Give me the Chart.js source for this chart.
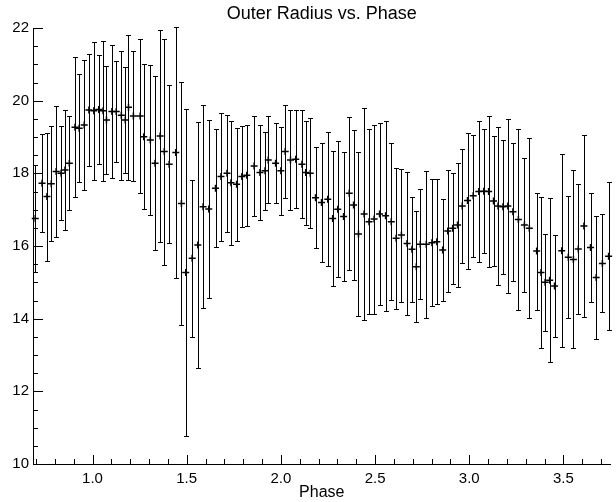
<!DOCTYPE html>
<html>
<head>
<meta charset="utf-8">
<title>Outer Radius vs. Phase</title>
<script src="https://cdn.jsdelivr.net/npm/chart.js@4.4.1/dist/chart.umd.min.js"></script>
<style>
html, body { margin: 0; padding: 0; background: #fff; }
#wrap { width: 616px; height: 502px; }
</style>
</head>
<body>
<div id="wrap"><canvas id="radiusChart"></canvas></div>
<script>
// values
const phase = [0.696,0.732,0.758,0.781,0.807,0.833,0.854,0.877,0.907,0.929,0.956,0.981,1.007,1.033,1.056,1.074,1.103,1.126,1.153,1.174,
  1.191,1.217,1.253,1.272,1.307,1.332,1.359,1.381,1.407,1.442,1.472,1.495,1.529,1.559,1.587,1.617,1.653,1.682,1.714,1.735,
  1.765,1.793,1.819,1.858,1.889,1.916,1.933,1.972,2.000,2.023,2.051,2.079,2.112,2.132,2.156,2.184,2.216,2.249,2.275,2.302,
  2.333,2.363,2.386,2.412,2.442,2.468,2.495,2.524,2.556,2.586,2.612,2.640,2.670,2.696,2.719,2.740,2.772,2.802,2.828,2.859,
  2.886,2.912,2.938,2.963,2.991,3.021,3.051,3.077,3.103,3.129,3.153,3.179,3.205,3.232,3.261,3.293,3.319,3.358,3.381,3.403,
  3.427,3.453,3.491,3.526,3.553,3.579,3.609,3.644,3.674,3.707,3.740];
const radius = [16.76,17.73,17.36,17.71,18.05,18.00,18.09,18.28,19.27,19.24,19.33,19.74,19.72,19.76,19.72,19.47,19.70,19.70,19.60,19.47,
  19.82,19.58,19.58,19.01,18.92,18.28,19.03,18.60,18.25,18.57,17.17,15.27,15.66,16.03,17.08,17.02,17.59,17.91,18.00,17.74,
  17.70,17.91,17.95,18.20,18.02,18.07,18.37,18.28,18.07,18.60,18.37,18.39,18.25,18.02,18.00,17.33,17.20,17.29,16.76,17.01,
  16.81,17.45,17.13,16.33,16.88,16.67,16.74,16.88,16.83,16.67,16.21,16.30,16.07,15.91,15.43,16.05,16.05,16.09,16.12,15.89,
  16.41,16.49,16.58,17.10,17.25,17.38,17.50,17.51,17.50,17.24,17.10,17.08,17.10,16.94,16.73,16.58,16.49,15.86,15.27,15.00,
  15.06,14.90,15.87,15.69,15.63,15.92,16.55,15.96,15.13,15.52,15.72];
const radiusErr = [1.47,1.35,1.76,1.58,1.80,1.29,1.64,1.29,1.93,1.49,1.78,1.54,1.90,1.50,1.92,1.48,1.83,1.38,1.77,1.47,
  2.00,1.79,2.12,2.00,2.07,2.39,2.91,3.11,2.17,3.45,3.34,4.50,2.17,3.38,2.79,2.46,1.62,1.76,1.61,1.71,
  1.55,1.40,1.39,1.38,1.31,1.08,1.20,1.11,1.21,1.27,1.37,1.35,1.48,1.43,1.51,1.39,1.64,1.84,1.86,1.87,
  1.78,2.11,2.07,2.26,2.92,2.54,2.60,2.50,2.61,2.17,1.95,1.83,1.96,1.45,1.53,1.51,2.02,1.75,1.72,1.41,
  1.68,1.53,1.71,1.56,1.87,1.67,1.93,1.71,2.07,1.79,2.17,1.84,2.39,1.89,2.48,1.84,2.47,1.61,2.08,1.34,
  2.26,1.40,2.65,1.68,2.45,1.79,2.51,1.49,1.70,1.35,2.03];
const xTickVals = [1.0, 1.5, 2.0, 2.5, 3.0, 3.5];
const yTickVals = [10, 12, 14, 16, 18, 20, 22];

const points = phase.map((p, i) => ({ x: p, y: radius[i] }));

// vertical error bars with small caps
const errorBars = {
  id: 'errorBars',
  beforeDatasetsDraw(chart) {
    const { ctx, scales: { x, y } } = chart;
    ctx.save();
    ctx.strokeStyle = '#000';
    ctx.lineWidth = 1;
    ctx.beginPath();
    phase.forEach((p, i) => {
      const px = Math.round(x.getPixelForValue(p)) + 0.5;
      const top = Math.round(y.getPixelForValue(radius[i] + radiusErr[i])) + 0.5;
      const bot = Math.round(y.getPixelForValue(radius[i] - radiusErr[i])) + 0.5;
      ctx.moveTo(px, top); ctx.lineTo(px, bot);
      ctx.moveTo(px - 2.5, top); ctx.lineTo(px + 2.5, top);
      ctx.moveTo(px - 2.5, bot); ctx.lineTo(px + 2.5, bot);
    });
    ctx.stroke();
    ctx.restore();
  }
};

// IDL style inward ticks plus centred title over the plot area
const idlAxes = {
  id: 'idlAxes',
  afterDraw(chart) {
    const { ctx, chartArea: a, scales: { x, y } } = chart;
    ctx.save();
    ctx.strokeStyle = '#000';
    ctx.lineWidth = 1;
    ctx.beginPath();
    for (let i = 7; i <= 37; i++) {
      const px = Math.round(x.getPixelForValue(i / 10)) + 0.5;
      const len = i % 5 === 0 ? 9 : 5;
      ctx.moveTo(px, a.bottom); ctx.lineTo(px, a.bottom - len);
    }
    for (let i = 20; i <= 44; i++) {
      const py = Math.round(y.getPixelForValue(i / 2)) + 0.5;
      const len = i % 4 === 0 ? 10 : 5;
      ctx.moveTo(a.left, py); ctx.lineTo(a.left + len, py);
    }
    ctx.stroke();
    ctx.fillStyle = '#000';
    ctx.font = '18px "Liberation Sans", sans-serif';
    ctx.textAlign = 'center';
    ctx.textBaseline = 'middle';
    ctx.fillText('Outer Radius vs. Phase', (a.left + a.right) / 2, 14);
    ctx.restore();
  }
};

Chart.defaults.font.family = '"Liberation Sans", sans-serif';
Chart.defaults.color = '#000';

new Chart(document.getElementById('radiusChart'), {
  type: 'scatter',
  data: {
    datasets: [{
      label: 'Outer Radius',
      data: points,
      pointStyle: 'cross',
      pointRadius: 3.5,
      pointBorderWidth: 1.5,
      borderColor: '#000',
      backgroundColor: '#000',
      clip: false
    }]
  },
  options: {
    responsive: true,
    maintainAspectRatio: false,
    animation: false,
    layout: { padding: { top: 28, right: 0, left: 0, bottom: 0 } },
    plugins: {
      legend: { display: false },
      tooltip: { enabled: false }
    },
    scales: {
      x: {
        type: 'linear',
        min: 0.684,
        max: 3.75,
        grid: { display: false, drawTicks: false },
        border: { display: true, color: '#000', width: 1 },
        afterBuildTicks: s => { s.ticks = xTickVals.map(v => ({ value: v })); },
        afterFit: s => { s.height = 38; },
        ticks: {
          padding: 6,
          font: { size: 15 },
          maxRotation: 0,
          callback: v => Number(v).toFixed(1)
        },
        title: { display: true, text: 'Phase', font: { size: 16 }, padding: { top: 0, bottom: 0 } }
      },
      y: {
        min: 10,
        max: 22,
        grid: { display: false, drawTicks: false },
        border: { display: true, color: '#000', width: 1 },
        afterBuildTicks: s => { s.ticks = yTickVals.map(v => ({ value: v })); },
        afterFit: s => { s.width = 33; },
        ticks: { padding: 4, font: { size: 15 } }
      }
    }
  },
  plugins: [errorBars, idlAxes]
});
</script>
</body>
</html>
